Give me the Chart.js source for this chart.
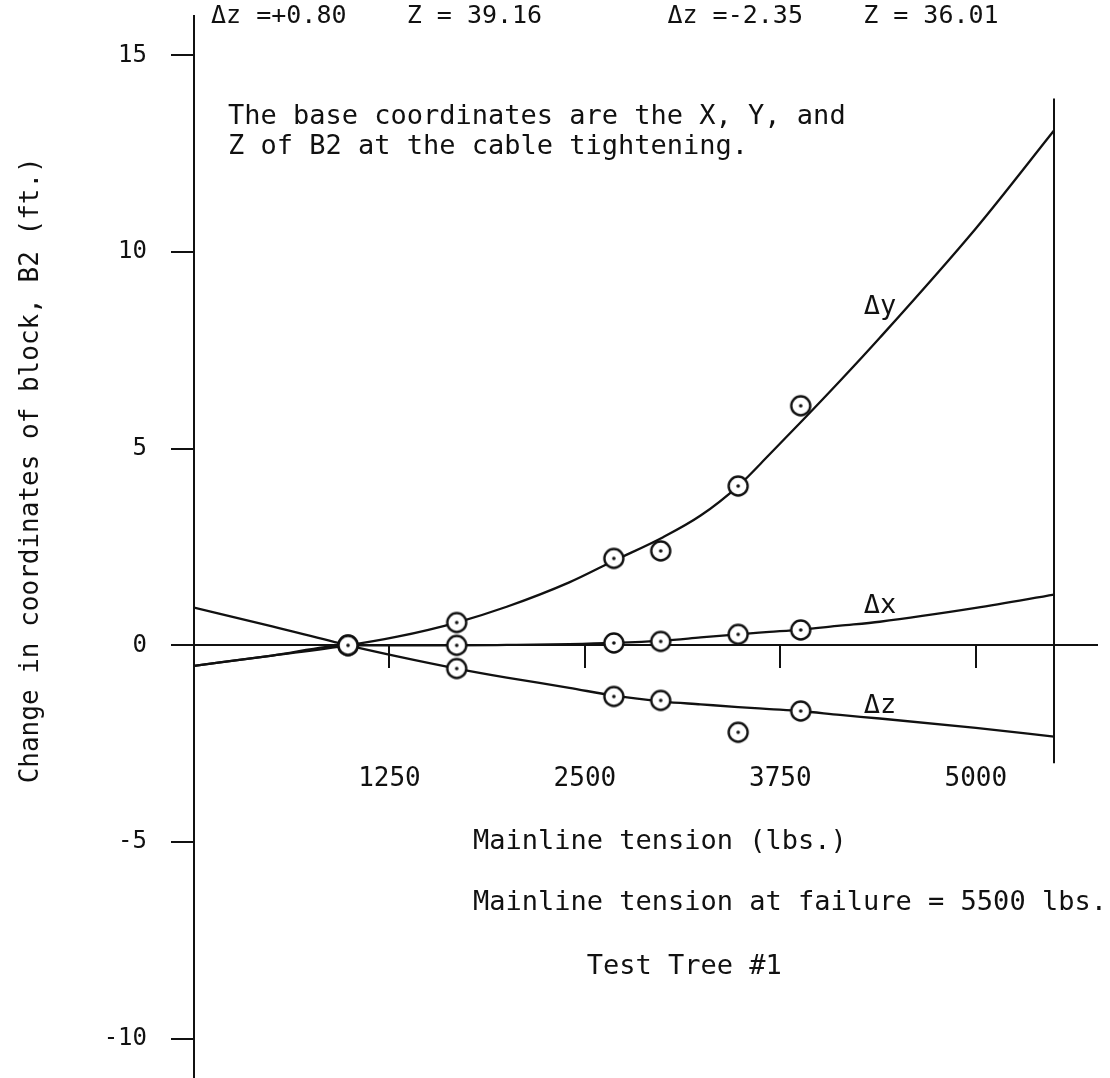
<!DOCTYPE html>
<html lang="en">
<head>
  <meta charset="UTF-8" />
  <title>Test Tree #1 - Change in coordinates of block B2</title>
  <script src="https://cdn.jsdelivr.net/npm/chart.js"></script>
  <style>
    html, body { margin: 0; padding: 0; background: #fff; overflow: hidden; }
    /* a bit taller than the window: the layout keeps ~11px under the plot */
    #wrap { width: 1110px; height: 1089px; position: relative; }
  </style>
</head>
<body>
  <div id="wrap"><canvas id="chart"></canvas></div>
  <script>
    // fitted curves (mainline tension in lbs.)
    const curveX = [0, 500, 985, 1300, 1680, 2000, 2400, 2685, 3000, 3240, 3480, 3680, 3880, 4131, 4386, 5000, 5500];
    const dyCurve = [-0.52, -0.26, 0, 0.22, 0.58, 0.98, 1.6, 2.15, 2.75, 3.3, 4.05, 4.85, 5.67, 6.72, 7.82, 10.6, 13.09];
    const dxCurve = [-0.52, -0.26, 0, 0, 0, 0.01, 0.03, 0.06, 0.12, 0.2, 0.28, 0.34, 0.4, 0.5, 0.6, 0.95, 1.29];
    const dzCurve = [0.96, 0.48, 0, -0.28, -0.59, -0.82, -1.08, -1.28, -1.43, -1.5, -1.57, -1.62, -1.67, -1.77, -1.86, -2.1, -2.32];

    // measured points
    const obsX = [985, 1680, 2685, 2985, 3480, 3880];
    const dyObs = [0, 0.58, 2.21, 2.40, 4.05, 6.09];
    const dxObs = [0, 0, 0.06, 0.1, 0.28, 0.39];
    const dzObs = [0, -0.59, -1.30, -1.40, -2.21, -1.67];

    const xTicks = [1250, 2500, 3750, 5000];
    const yTicks = [-10, -5, 0, 5, 10, 15];

    // tension at failure, drawn as the vertical line on the right
    const failureTension = 5500;
    const failureLineY = [13.9, -3.0];

    // text placed in data units
    const notes = [
      { text: 'Δz =+0.80    Z = 39.16', x: 109, y: 16.0, size: 25 },
      { text: 'Δz =-2.35    Z = 36.01', x: 3028, y: 16.0, size: 25 },
      { text: 'The base coordinates are the X, Y, and', x: 217, y: 13.42, size: 27 },
      { text: 'Z of B2 at the cable tightening.', x: 217, y: 12.66, size: 27 },
      { text: 'Δy', x: 4284, y: 8.6, size: 27 },
      { text: 'Δx', x: 4284, y: 1.0, size: 27 },
      { text: 'Δz', x: 4284, y: -1.55, size: 27 },
      { text: 'Mainline tension (lbs.)', x: 1784, y: -5.01, size: 27 },
      { text: 'Mainline tension at failure = 5500 lbs.', x: 1784, y: -6.56, size: 27 },
      { text: 'Test Tree #1', x: 2511, y: -8.19, size: 27 }
    ];
    const yTitle = { text: 'Change in coordinates of block, B2 (ft.)', y: 4.45 };

    const FONT = '"DejaVu Sans Mono", "Liberation Mono", monospace';
    const INK = '#111';

    function makeMarker() {
      const c = document.createElement('canvas');
      c.width = 26; c.height = 26;
      const g = c.getContext('2d');
      g.fillStyle = '#fff';
      g.strokeStyle = INK;
      g.lineWidth = 2.4;
      g.beginPath(); g.arc(13, 13, 9.5, 0, Math.PI * 2); g.fill(); g.stroke();
      g.fillStyle = INK;
      g.beginPath(); g.arc(13, 13, 1.8, 0, Math.PI * 2); g.fill();
      return c;
    }
    const marker = makeMarker();

    const pts = (xs, ys) => xs.map((v, i) => ({ x: v, y: ys[i] }));

    const curve = (label, ys) => ({
      type: 'line', label, data: pts(curveX, ys),
      borderColor: INK, borderWidth: 2.3, pointRadius: 0,
      cubicInterpolationMode: 'monotone', fill: false, order: 2
    });
    const obs = (label, ys) => ({
      type: 'scatter', label, data: pts(obsX, ys),
      pointStyle: marker, pointRadius: 10, showLine: false, order: 0
    });

    const notesPlugin = {
      id: 'notes',
      afterDraw(chart) {
        const { ctx } = chart;
        const x = chart.scales.x, y = chart.scales.y;
        ctx.save();
        ctx.fillStyle = INK;
        ctx.textBaseline = 'middle';
        ctx.textAlign = 'left';
        notes.forEach(n => {
          ctx.font = n.size + 'px ' + FONT;
          ctx.fillText(n.text, x.getPixelForValue(n.x), y.getPixelForValue(n.y));
        });
        ctx.translate(y.left + 31, y.getPixelForValue(yTitle.y));
        ctx.rotate(-Math.PI / 2);
        ctx.textAlign = 'center';
        ctx.font = '26px ' + FONT;
        ctx.fillText(yTitle.text, 0, 0);
        ctx.restore();
      }
    };

    new Chart(document.getElementById('chart'), {
      type: 'line',
      data: {
        datasets: [
          obs('Δy', dyObs),
          obs('Δx', dxObs),
          obs('Δz', dzObs),
          curve('Δy curve', dyCurve),
          curve('Δx curve', dxCurve),
          curve('Δz curve', dzCurve),
          {
            type: 'line', label: 'failure',
            data: failureLineY.map(v => ({ x: failureTension, y: v })),
            borderColor: INK, borderWidth: 2, pointRadius: 0, order: 3
          }
        ]
      },
      options: {
        responsive: true,
        maintainAspectRatio: false,
        animation: false,
        layout: { padding: { left: 0, right: 13, top: 16, bottom: 0 } },
        plugins: { legend: { display: false }, tooltip: { enabled: false } },
        scales: {
          x: {
            type: 'linear',
            min: 0, max: 5775,
            position: { y: 0 },
            afterBuildTicks: s => { s.ticks = xTicks.map(v => ({ value: v })); },
            grid: { drawOnChartArea: false, tickLength: 22, color: INK, lineWidth: 2 },
            border: { display: true, color: INK, width: 2 },
            ticks: { color: INK, padding: 96, maxRotation: 0, font: { family: FONT, size: 26 }, callback: v => String(v) }
          },
          y: {
            type: 'linear',
            min: -11, max: 16,
            position: 'left',
            afterFit: s => { s.width = 194; s.paddingTop = 0; s.paddingBottom = 0; },
            afterBuildTicks: s => { s.ticks = yTicks.map(v => ({ value: v })); },
            grid: { drawOnChartArea: false, tickLength: 23, color: INK, lineWidth: 2 },
            border: { display: true, color: INK, width: 2 },
            ticks: { color: INK, padding: 24, font: { family: FONT, size: 24 }, callback: v => String(v) }
          }
        }
      },
      plugins: [notesPlugin]
    });
  </script>
</body>
</html>
